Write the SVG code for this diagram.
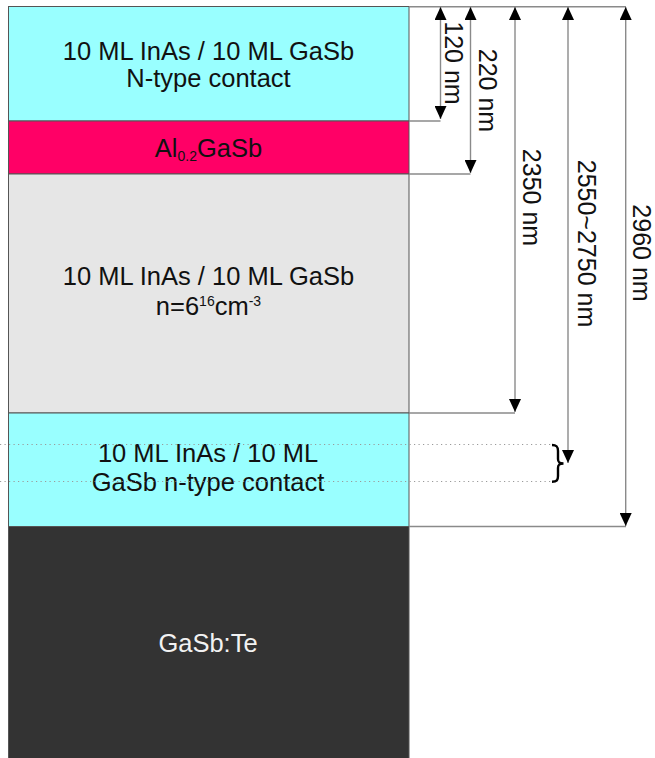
<svg xmlns="http://www.w3.org/2000/svg" width="655" height="758" viewBox="0 0 655 758">
<style>
text{font-family:"Liberation Sans",Arial,sans-serif;font-size:25.5px;fill:#111}
.layer{stroke:#555;stroke-width:1}
.dim{fill:none;stroke:#8a8a8a;stroke-width:1.4}
.dot{fill:none;stroke:#9a9a9a;stroke-width:1.2;stroke-dasharray:1.2 3.3}
.rot{font-size:25px;text-anchor:middle}
.c{text-anchor:middle}
.sm{font-size:14px}
</style>
<defs>
<marker id="ah" markerUnits="userSpaceOnUse" markerWidth="13" markerHeight="12" refX="13" refY="6" orient="auto-start-reverse">
<path d="M0,0 L13,6 L0,12 z" fill="#000"/>
</marker>
</defs>
<rect width="655" height="758" fill="#fff"/>
<g id="layer-top-contact">
<rect class="layer" x="8.5" y="6.5" width="400.5" height="114.5" fill="#99ffff"/>
<text class="c" x="208.5" y="60">10 ML InAs / 10 ML GaSb</text>
<text class="c" x="208.5" y="87">N-type contact</text>
</g>
<g id="layer-algasb">
<rect class="layer" x="8.5" y="121" width="400.5" height="53" fill="#ff0066"/>
<text class="c" x="208.5" y="157">Al<tspan class="sm" dy="4">0.2</tspan><tspan dy="-4">GaSb</tspan></text>
</g>
<g id="layer-absorber">
<rect class="layer" x="8.5" y="174" width="400.5" height="239" fill="#e6e6e6"/>
<text class="c" x="208.5" y="285">10 ML InAs / 10 ML GaSb</text>
<text class="c" x="208.5" y="315">n=6<tspan class="sm" dy="-9">16</tspan><tspan dy="9">cm</tspan><tspan class="sm" dy="-9">-3</tspan></text>
</g>
<g id="layer-bottom-contact">
<rect class="layer" x="8.5" y="413" width="400.5" height="113.5" fill="#99ffff"/>
<text class="c" x="208" y="462">10 ML InAs / 10 ML</text>
<text class="c" x="208" y="491">GaSb n-type contact</text>
</g>
<g id="layer-substrate">
<rect class="layer" x="8.5" y="526.5" width="400.5" height="240" fill="#333333"/>
<text class="c" x="208" y="652" style="fill:#f2f2f2">GaSb:Te</text>
</g>
<g id="connectors">
<path class="dim" d="M409,6.7 H626 M409,121 H440.5 M409,174 H470.5 M409,413 H515 M409,526.5 H626"/>
<line class="dim" x1="440.5" y1="7" x2="440.5" y2="119" marker-start="url(#ah)" marker-end="url(#ah)"/>
<line class="dim" x1="470.5" y1="7" x2="470.5" y2="173" marker-start="url(#ah)" marker-end="url(#ah)"/>
<line class="dim" x1="515" y1="7" x2="515" y2="412" marker-start="url(#ah)" marker-end="url(#ah)"/>
<line class="dim" x1="568" y1="7" x2="568" y2="463" marker-start="url(#ah)" marker-end="url(#ah)"/>
<line class="dim" x1="625.7" y1="7" x2="625.7" y2="526" marker-start="url(#ah)" marker-end="url(#ah)"/>
<path class="dot" d="M0,444.5 H551 M0,481.5 H551"/>
<path d="M552,445 C557,445 558,447 558,451 V459 C558,462 559,463.5 563.5,463.5 C559,463.5 558,465 558,468 V476 C558,480 557,481.7 552,481.7" fill="none" stroke="#000" stroke-width="2.4"/>
</g>
<g id="labels">
<text class="rot" transform="translate(445,63) rotate(90)">120 nm</text>
<text class="rot" transform="translate(479,90.5) rotate(90)">220 nm</text>
<text class="rot" transform="translate(523,197.5) rotate(90)">2350 nm</text>
<text class="rot" transform="translate(578,243.5) rotate(90)">2550~2750 nm</text>
<text class="rot" transform="translate(633,253) rotate(90)">2960 nm</text>
</g>
</svg>
